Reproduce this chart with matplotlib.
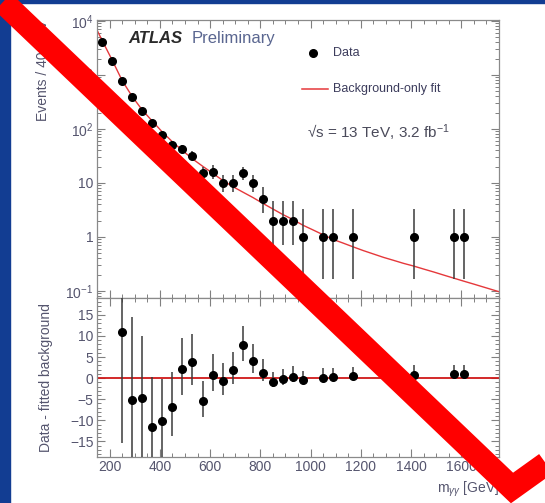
import math
import matplotlib
matplotlib.use("Agg")
import matplotlib.pyplot as plt
from matplotlib.ticker import MultipleLocator, LogLocator, FuncFormatter, NullFormatter
from matplotlib.lines import Line2D
from matplotlib.patches import Rectangle

plt.rcParams['font.family'] = ['Liberation Sans', 'DejaVu Sans']
plt.rcParams['mathtext.fontset'] = 'custom'
plt.rcParams['mathtext.rm'] = 'Liberation Sans'
plt.rcParams['mathtext.it'] = 'Liberation Sans:italic'

# diphoton mass spectrum, 40 GeV bins (bin centres in GeV)
mass = [170, 210, 250, 290, 330, 370, 410, 450, 490, 530, 570, 610, 650, 690,
        730, 770, 810, 850, 890, 930, 970, 1050, 1090, 1170, 1410, 1570, 1610]
events = [4100, 1800, 770, 390, 215, 130, 78, 51, 42, 32, 15, 16, 10, 10,
          15, 10, 5, 2, 2, 2, 1, 1, 1, 1, 1, 1, 1]
events_lo = [64, 42, 28, 20, 15, 11, 8.8, 7.1, 6.5, 5.6, 3.8, 3.9, 3.1, 3.1,
             3.8, 3.1, 2.2, 1.3, 1.3, 1.3, 0.83, 0.83, 0.83, 0.83, 0.83, 0.83, 0.83]
events_hi = [65, 43, 29, 21, 15.5, 12, 9.9, 8.2, 7.5, 6.7, 5.0, 5.1, 4.3, 4.3,
             5.0, 4.3, 3.4, 2.6, 2.6, 2.6, 2.3, 2.3, 2.3, 2.3, 2.3, 2.3, 2.3]

# background-only fit
fit_mass = [150, 170, 210, 250, 290, 330, 370, 410, 450, 490, 530, 570, 610, 650,
            690, 730, 770, 810, 850, 890, 930, 970, 1010, 1050, 1090, 1130, 1170,
            1210, 1250, 1290, 1330, 1370, 1410, 1450, 1490, 1530, 1570, 1610,
            1650, 1700, 1750]
fit_events = [6800, 4400, 1900, 790, 400, 225, 140, 88, 58, 40, 28, 20.5, 15.2, 11.2,
              8.6, 6.8, 5.4, 4.2, 3.3, 2.6, 2.1, 1.65, 1.35, 1.1, 0.9, 0.77, 0.655,
              0.56, 0.485, 0.42, 0.37, 0.325, 0.29, 0.255, 0.225, 0.197, 0.173, 0.152,
              0.134, 0.114, 0.097]

# data - fitted background
res_mass = [250, 290, 330, 370, 410, 450, 490, 530, 570, 610, 650, 690, 730, 770,
            810, 850, 890, 930, 970, 1050, 1090, 1170, 1410, 1570, 1610]
residual = [11.0, -5.2, -4.8, -11.5, -10.2, -6.8, 2.2, 3.8, -5.4, 0.65, -0.6, 1.9, 7.8, 4.15,
            1.1, -1.0, -0.3, 0.3, -0.55, 0.1, 0.2, 0.4, 0.7, 0.9, 0.9]
res_lo = [26.4, 19.7, 14.8, 11.7, 9.9, 6.9, 6.3, 5.5, 3.7, 3.8, 3.3, 3.2, 3.7, 3.0,
          1.8, 1.2, 1.3, 1.3, 0.8, 0.8, 0.8, 0.8, 0.8, 0.8, 0.8]
res_hi = [27, 19.7, 14.8, 11.7, 9.9, 8.2, 7.4, 6.6, 4.7, 5.0, 4.1, 4.3, 4.6, 4.0,
          3.5, 2.4, 2.5, 2.5, 2.3, 2.3, 2.3, 2.3, 2.3, 2.3, 2.3]

label_col = '#55556e'
text_col = '#3c3c5c'
fit_col = '#e5383b'
W, H = 545, 503

fig = plt.figure(figsize=(W / 100, H / 100), dpi=100)
fig.patch.set_facecolor('white')

# blue slide border (left and top)
blue = '#123d92'
fig.patches.append(Rectangle((0, 0), 10 / W, 1, transform=fig.transFigure, color=blue, zorder=-5))
fig.patches.append(Rectangle((0, 1 - 3 / H), 1, 3 / H, transform=fig.transFigure, color=blue, zorder=-5))

ax = fig.add_axes([97 / W, 1 - 298 / H, 402 / W, 278 / H])
ax2 = fig.add_axes([97 / W, 1 - 457 / H, 402 / W, 159 / H], sharex=ax)


def root_style(a):
    for s in a.spines.values():
        s.set_color('#8a8a8a')
        s.set_linewidth(0.9)
    a.tick_params(which='both', direction='in', top=True, right=True,
                  color='#808080', labelcolor=label_col, labelsize=10, pad=2.5)
    a.tick_params(which='major', length=6, width=0.8)
    a.tick_params(which='minor', length=3, width=0.7)


# upper panel
ax.set_yscale('log')
ax.plot(fit_mass, fit_events, color=fit_col, lw=1.0, zorder=2)
ax.errorbar(mass, events, yerr=[events_lo, events_hi], fmt='o', color='black',
            ecolor='#3a3a3a', elinewidth=1.1, capsize=0, markersize=5.5, zorder=3)
ax.set_xlim(150, 1750)
ax.set_ylim(0.0742, 1.043e4)
root_style(ax)
ax.xaxis.set_major_locator(MultipleLocator(200))
ax.xaxis.set_minor_locator(MultipleLocator(50))
ax.yaxis.set_major_locator(LogLocator(base=10, numticks=10))
ax.yaxis.set_minor_locator(LogLocator(base=10, subs=range(2, 10), numticks=20))
ylabels = {-1: '$10^{-1}$', 0: '1', 1: '10', 2: '$10^{2}$', 3: '$10^{3}$', 4: '$10^{4}$'}
ax.yaxis.set_major_formatter(FuncFormatter(lambda v, p: ylabels.get(int(round(math.log10(v))), '')))
ax.yaxis.set_minor_formatter(NullFormatter())
plt.setp(ax.get_xticklabels(), visible=False)
ax.set_ylabel('Events / 40 GeV', loc='top', fontsize=10, color=label_col)
ax.yaxis.set_label_coords(-0.118, 1.0)

ax.text(0.077, 0.935, 'ATLAS', transform=ax.transAxes, fontsize=12,
        fontweight='bold', fontstyle='italic', color='#2a2a2a', va='center')
ax.text(0.236, 0.935, 'Preliminary', transform=ax.transAxes, fontsize=12,
        color='#5a6690', va='center')
ax.plot([0.537], [0.881], 'o', color='black', markersize=5.5, transform=ax.transAxes)
ax.text(0.587, 0.881, 'Data', transform=ax.transAxes, fontsize=9, color=text_col, va='center')
ax.plot([0.51, 0.575], [0.752, 0.752], color=fit_col, lw=1.1, transform=ax.transAxes)
ax.text(0.587, 0.752, 'Background-only fit', transform=ax.transAxes, fontsize=9,
        color=text_col, va='center')
ax.text(0.522, 0.594, '√s = 13 TeV, 3.2 fb$^{-1}$', transform=ax.transAxes, fontsize=11,
        color='#4a4a5a', va='center')

# lower panel
ax2.axhline(0, color='#d01818', lw=1.3, zorder=2)
ax2.errorbar(res_mass, residual, yerr=[res_lo, res_hi], fmt='o', color='black',
             ecolor='#3a3a3a', elinewidth=1.1, capsize=0, markersize=5.5, zorder=3)
ax2.set_ylim(-18.7, 19.0)
root_style(ax2)
ax2.yaxis.set_major_locator(MultipleLocator(5))
ax2.yaxis.set_minor_locator(MultipleLocator(1))
ax2.yaxis.set_major_formatter(FuncFormatter(lambda v, p: f'{int(v)}'.replace('-', '\u2212')))
ax2.set_ylabel('Data - fitted background', fontsize=10, color=label_col)
ax2.yaxis.set_label_coords(-0.11, 0.5)
ax2.set_xlabel(r'm$_{\gamma\gamma}$ [GeV]', loc='right', fontsize=10, color=label_col)
ax2.xaxis.set_label_coords(1.0, -0.145)

# big red strike-through mark drawn over the slide (starts just inside the top-left corner)
px = [3, 512, 600]
py = [2, 488, 425]
fig.lines.append(Line2D([x / W for x in px], [1 - y / H for y in py], transform=fig.transFigure,
                        color='#ff0000', lw=17, solid_joinstyle='miter',
                        solid_capstyle='butt', zorder=10))

fig.savefig('out.png', dpi=100)
